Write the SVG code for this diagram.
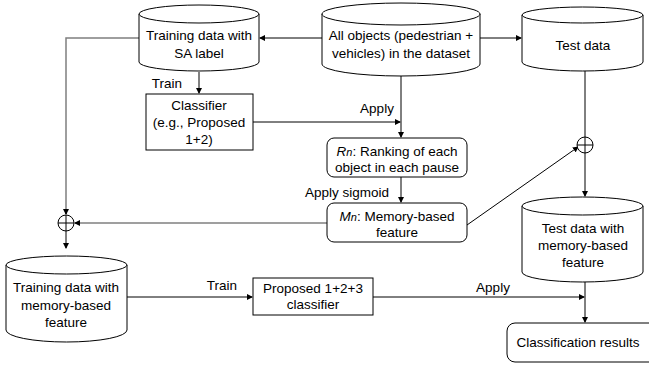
<svg xmlns="http://www.w3.org/2000/svg" width="649" height="366" viewBox="0 0 649 366">
<defs>
<marker id="ah" markerWidth="6" markerHeight="6" refX="5" refY="3" orient="auto" markerUnits="userSpaceOnUse"><path d="M0,0 L6,3 L0,6 z" fill="#000"/></marker>
<style>
.s{fill:#fff;stroke:#000;stroke-width:1}
.t{font-family:"Liberation Sans",Arial,sans-serif;font-size:13.5px;fill:#000;text-anchor:middle}
.l{fill:none;stroke:#000;stroke-width:1}
.g{fill:none;stroke:#7f7f7f;stroke-width:1.5}
</style>
</defs>
<rect width="649" height="366" fill="#fff"/>
<g id="connectors">
<line class="l" x1="322" y1="38" x2="260" y2="38" marker-end="url(#ah)"/>
<line class="l" x1="480" y1="38" x2="521" y2="38" marker-end="url(#ah)"/>
<line class="l" x1="199" y1="72" x2="199" y2="93" marker-end="url(#ah)"/>
<line class="l" x1="253" y1="122" x2="400" y2="122" marker-end="url(#ah)"/>
<line class="l" x1="401" y1="76" x2="401" y2="137" marker-end="url(#ah)"/>
<line class="l" x1="401" y1="177" x2="401" y2="202" marker-end="url(#ah)"/>
<polyline class="g" points="139,38 66,38 66,214"/>
<line class="l" x1="66" y1="210" x2="66" y2="214" marker-end="url(#ah)"/>
<line class="l" x1="66" y1="231" x2="66" y2="248" marker-end="url(#ah)"/>
<line class="g" x1="327" y1="223" x2="78" y2="223"/>
<line class="l" x1="80" y1="223" x2="75" y2="223" marker-end="url(#ah)"/>
<line class="l" x1="467" y1="225" x2="578" y2="147" marker-end="url(#ah)"/>
<line class="l" x1="585" y1="71" x2="585" y2="137"/>
<line class="l" x1="585" y1="153" x2="585" y2="196" marker-end="url(#ah)"/>
<line class="l" x1="127" y1="297" x2="252" y2="297" marker-end="url(#ah)"/>
<line class="l" x1="373" y1="297" x2="584" y2="297" marker-end="url(#ah)"/>
<line class="l" x1="585" y1="282" x2="585" y2="322" marker-end="url(#ah)"/>
<circle class="s" cx="66" cy="223" r="8"/>
<line class="l" x1="58" y1="223" x2="74" y2="223"/>
<line class="l" x1="66" y1="215" x2="66" y2="231"/>
<circle class="s" cx="585" cy="145" r="8"/>
<line class="l" x1="577" y1="145" x2="593" y2="145"/>
<line class="l" x1="585" y1="137" x2="585" y2="153"/>
<text class="t" x="167" y="88">Train</text>
<text class="t" x="377" y="113">Apply</text>
<text class="t" x="347" y="197">Apply sigmoid</text>
<text class="t" x="222" y="290">Train</text>
<text class="t" x="493" y="292">Apply</text>
</g>
<g id="training-sa">
<path class="s" d="M139,14 L139,62 A60,9 0 0 0 259,62 L259,14"/>
<ellipse class="s" cx="199" cy="14" rx="60" ry="9"/>
<text class="t" x="199" y="40">Training data with</text>
<text class="t" x="199" y="58">SA label</text>
</g>
<g id="all-objects">
<path class="s" d="M322,14 L322,64 A79,12 0 0 0 480,64 L480,14"/>
<ellipse class="s" cx="401" cy="14" rx="79" ry="11"/>
<text class="t" x="401" y="40">All objects (pedestrian +</text>
<text class="t" x="401" y="58">vehicles) in the dataset</text>
</g>
<g id="test-data">
<path class="s" d="M522,15 L522,62 A60.5,9 0 0 0 643,62 L643,15"/>
<ellipse class="s" cx="582.5" cy="15" rx="60.5" ry="8"/>
<text class="t" x="583" y="50">Test data</text>
</g>
<g id="classifier">
<rect class="s" x="146" y="94" width="107" height="56"/>
<text class="t" x="199" y="110">Classifier</text>
<text class="t" x="199" y="127">(e.g., Proposed</text>
<text class="t" x="199" y="144">1+2)</text>
</g>
<g id="rn">
<rect class="s" x="327" y="138" width="140" height="39" rx="7"/>
<text class="t" x="397" y="156"><tspan font-style="italic">R<tspan font-size="11">n</tspan></tspan>: Ranking of each</text>
<text class="t" x="397" y="172">object in each pause</text>
</g>
<g id="mn">
<rect class="s" x="327" y="203" width="140" height="39" rx="7"/>
<text class="t" x="397" y="221"><tspan font-style="italic">M<tspan font-size="11">n</tspan></tspan>: Memory-based</text>
<text class="t" x="397" y="237">feature</text>
</g>
<g id="test-memory">
<path class="s" d="M522,206 L522,272 A60.5,10 0 0 0 643,272 L643,206"/>
<ellipse class="s" cx="582.5" cy="206" rx="60.5" ry="9"/>
<text class="t" x="583" y="233">Test data with</text>
<text class="t" x="583" y="250">memory-based</text>
<text class="t" x="583" y="267">feature</text>
</g>
<g id="training-memory">
<path class="s" d="M6,265 L6,330 A60.5,12 0 0 0 127,330 L127,265"/>
<ellipse class="s" cx="66.5" cy="265" rx="60.5" ry="9"/>
<text class="t" x="66" y="292">Training data with</text>
<text class="t" x="66" y="310">memory-based</text>
<text class="t" x="66" y="327">feature</text>
</g>
<g id="proposed123">
<rect class="s" x="253" y="278" width="120" height="37"/>
<text class="t" x="313" y="293">Proposed 1+2+3</text>
<text class="t" x="313" y="309">classifier</text>
</g>
<g id="results">
<rect class="s" x="507" y="323" width="150" height="39" rx="8"/>
<text class="t" x="578" y="347">Classification results</text>
</g>
</svg>
